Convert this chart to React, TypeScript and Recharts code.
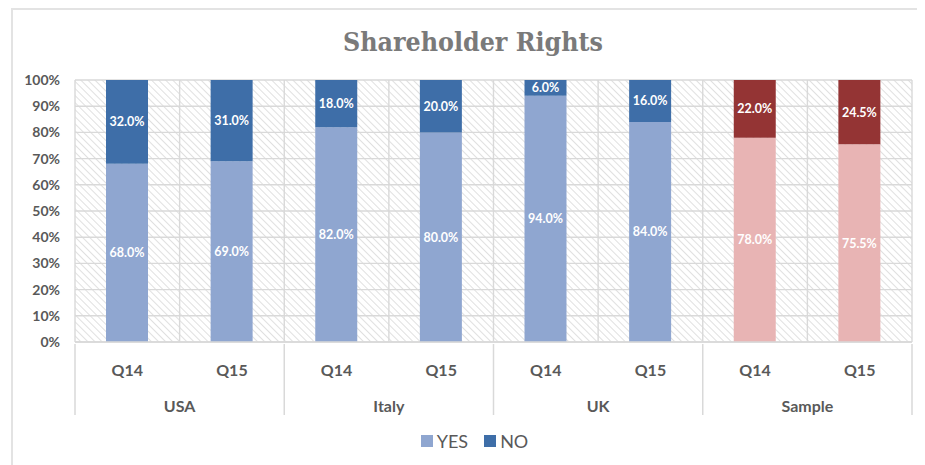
import React from "react";
import { BarChart, Bar, XAxis, YAxis, CartesianGrid, Cell, LabelList, Legend } from "recharts";

const groups = ["USA", "USA", "Italy", "Italy", "UK", "UK", "Sample", "Sample"];
const questions = ["Q14", "Q15", "Q14", "Q15", "Q14", "Q15", "Q14", "Q15"];
const yesValues = [68.0, 69.0, 82.0, 80.0, 94.0, 84.0, 78.0, 75.5];
const noValues = [32.0, 31.0, 18.0, 20.0, 6.0, 16.0, 22.0, 24.5];
const yTicks = [0, 10, 20, 30, 40, 50, 60, 70, 80, 90, 100];
const seriesNames = ["YES", "NO"];

const data = groups.map((g, i) => ({
  key: `${g}-${questions[i]}`,
  group: g,
  q: questions[i],
  yes: yesValues[i],
  no: noValues[i],
}));

const CHART_W = 917;
const CHART_H = 457;
const MARGIN = { top: 72, right: 13, bottom: 43, left: 0 };
const Y_W = 67;
const PLOT_W = CHART_W - MARGIN.right - MARGIN.left - Y_W;
const BW = PLOT_W / data.length;

const YES_BLUE = "#8FA6D0";
const NO_BLUE = "#3E6EA8";
const YES_RED = "#E8B4B4";
const NO_RED = "#943434";
const GRID = "#d9d9d9";
const TEXT = "#595959";
const FONT = 'Lato, "Open Sans", sans-serif';

const isSample = (g: string) => g === "Sample";

const XTick = (props: any) => {
  const { x, y, index } = props;
  const row = data[index];
  if (!row) return null;
  return (
    <g>
      <text x={x} y={y + 25} textAnchor="middle" dominantBaseline="central" fill={TEXT} fontSize={16} fontWeight={700} fontFamily={FONT}>
        {row.q}
      </text>
      {index % 2 === 0 && (
        <>
          <line x1={x - BW / 2} x2={x - BW / 2} y1={y} y2={y + 71} stroke={GRID} strokeWidth={1.5} />
          <text x={x + BW / 2} y={y + 61} textAnchor="middle" dominantBaseline="central" fill={TEXT} fontSize={16} fontWeight={700} fontFamily={FONT}>
            {row.group}
          </text>
        </>
      )}
      {index === data.length - 1 && (
        <line x1={x + BW / 2} x2={x + BW / 2} y1={y} y2={y + 71} stroke={GRID} strokeWidth={1.5} />
      )}
    </g>
  );
};

const LegendContent = () => (
  <div style={{ display: "flex", justifyContent: "center", alignItems: "center", fontFamily: FONT, fontSize: 18, color: TEXT, paddingLeft: 16 }}>
    {seriesNames.map((n, i) => (
      <div key={n} style={{ display: "flex", alignItems: "center", marginRight: i === 0 ? 16 : 0 }}>
        <span style={{ display: "inline-block", width: 12, height: 12, background: i === 0 ? YES_BLUE : NO_BLUE, marginRight: 4 }} />
        <span>{n}</span>
      </div>
    ))}
  </div>
);

export default function App() {
  return (
    <div style={{ position: "relative", width: CHART_W, height: CHART_H }}>
      <svg width={0} height={0} style={{ position: "absolute" }}>
        <defs>
          <pattern id="hatch" patternUnits="userSpaceOnUse" width={5} height={5} patternTransform="rotate(-45)">
            <rect width={5} height={5} fill="#ffffff" />
            <line x1={0} y1={0} x2={0} y2={5} stroke="#c6c6c6" strokeWidth={1.1} />
          </pattern>
        </defs>
      </svg>
      <div style={{ position: "absolute", left: 3, top: 0, width: CHART_W - 3, height: CHART_H, borderLeft: "2px solid #e3e3e3", borderTop: "2px solid #e3e3e3", boxSizing: "border-box" }} />
      <div style={{ position: "absolute", left: 0, top: 15, width: CHART_W, paddingLeft: 13, boxSizing: "border-box", textAlign: "center", lineHeight: "38px", fontFamily: "'DejaVu Serif Condensed', 'DejaVu Serif', serif", fontStretch: "condensed", fontWeight: 700, fontSize: 26.5, color: "#7a7a7a" }}>
        Shareholder Rights
      </div>
      <BarChart width={CHART_W} height={CHART_H} data={data} margin={MARGIN}>
        <CartesianGrid
          stroke={GRID}
          strokeWidth={1.4}
          fill="url(#hatch)"
          fillOpacity={1}
          verticalCoordinatesGenerator={({ offset }: any) =>
            Array.from({ length: data.length + 1 }, (_, i) => offset.left + (i * offset.width) / data.length)
          }
        />
        <XAxis
          dataKey="key"
          interval={0}
          height={80}
          tickSize={0}
          tickLine={false}
          axisLine={{ stroke: GRID, strokeWidth: 1.4 }}
          tick={<XTick />}
        />
        <YAxis
          width={Y_W}
          domain={[0, 100]}
          ticks={yTicks}
          interval={0}
          tickSize={0}
          tickMargin={15}
          axisLine={false}
          tickLine={false}
          tickFormatter={(v: number) => `${v}%`}
          tick={{ fill: TEXT, fontSize: 14, fontWeight: 700, fontFamily: FONT }}
        />
        <Legend
          layout="horizontal"
          verticalAlign="middle"
          align="center"
          content={<LegendContent />}
          wrapperStyle={{ top: 422, left: 0, width: CHART_W, height: 24 }}
        />
        <Bar dataKey="yes" name="YES" stackId="a" fill={YES_BLUE} barSize={42} isAnimationActive={false}>
          {data.map((d) => (
            <Cell key={d.key} fill={isSample(d.group) ? YES_RED : YES_BLUE} />
          ))}
          <LabelList dataKey="yes" position="center" fill="#ffffff" fontSize={12.5} fontWeight={700} fontFamily={FONT} formatter={(v: any) => `${Number(v).toFixed(1)}%`} />
        </Bar>
        <Bar dataKey="no" name="NO" stackId="a" fill={NO_BLUE} barSize={42} isAnimationActive={false}>
          {data.map((d) => (
            <Cell key={d.key} fill={isSample(d.group) ? NO_RED : NO_BLUE} />
          ))}
          <LabelList dataKey="no" position="center" fill="#ffffff" fontSize={12.5} fontWeight={700} fontFamily={FONT} formatter={(v: any) => `${Number(v).toFixed(1)}%`} />
        </Bar>
      </BarChart>
    </div>
  );
}
